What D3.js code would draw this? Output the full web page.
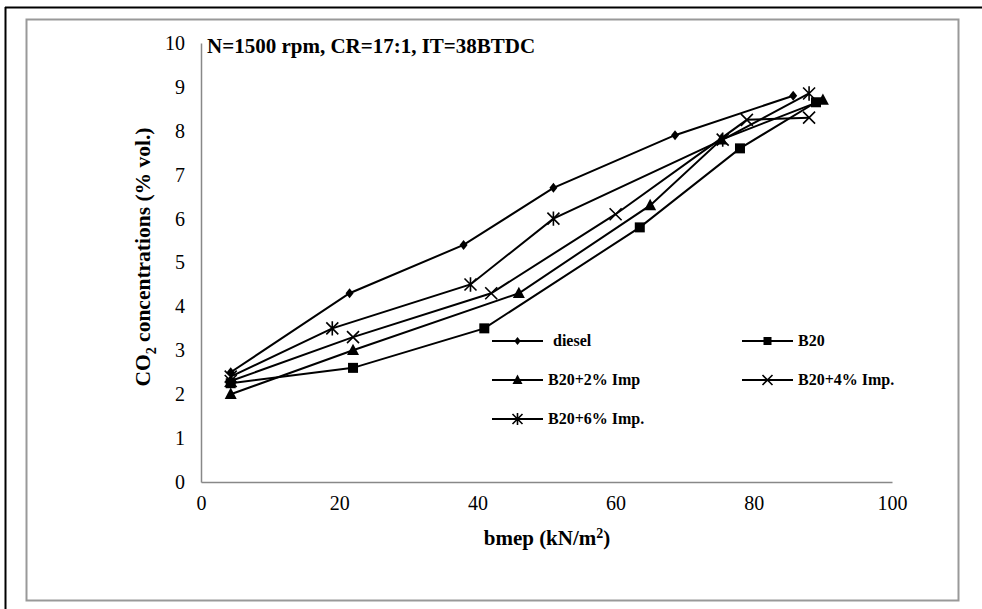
<!DOCTYPE html>
<html>
<head>
<meta charset="utf-8">
<script src="https://cdn.jsdelivr.net/npm/d3@7"></script>
<style>
  body { margin: 0; background: #fff; }
  text { font-family: "Liberation Serif", "Times New Roman", serif; fill: #000; }
</style>
</head>
<body>
<script>
// data
var xTicks = [0, 20, 40, 60, 80, 100];
var yTicks = [0, 1, 2, 3, 4, 5, 6, 7, 8, 9, 10];

var dieselX = [4.3, 21.5, 38, 51, 68.6, 85.7];
var dieselY = [2.5, 4.3, 5.4, 6.7, 7.9, 8.8];
var b20X = [4.3, 22, 41, 63.5, 78, 89];
var b20Y = [2.25, 2.6, 3.5, 5.8, 7.6, 8.65];
var imp2X = [4.3, 22, 46, 65, 75.3, 90];
var imp2Y = [2.0, 3.0, 4.3, 6.3, 7.8, 8.7];
var imp4X = [4.3, 22, 42, 60, 79, 88];
var imp4Y = [2.3, 3.3, 4.3, 6.1, 8.25, 8.3];
var imp6X = [4.3, 19, 39, 51, 75.5, 88];
var imp6Y = [2.4, 3.5, 4.5, 6.0, 7.8, 8.85];

var names = ["diesel", "B20", "B20+2% Imp", "B20+4% Imp.", "B20+6% Imp."];
var symbols = ["diamond", "square", "triangle", "cross", "star"];

var W = 982, H = 609;
var svg = d3.select("body").append("svg").attr("width", W).attr("height", H);

// frames
svg.append("line").attr("x1", 5).attr("x2", W).attr("y1", 7.5).attr("y2", 7.5)
   .attr("stroke", "#000").attr("stroke-width", 2);
svg.append("line").attr("x1", 5.5).attr("x2", 5.5).attr("y1", 7).attr("y2", H)
   .attr("stroke", "#000").attr("stroke-width", 2);
svg.append("rect").attr("x", 26.5).attr("y", 19.5).attr("width", 932).attr("height", 581)
   .attr("fill", "none").attr("stroke", "#999").attr("stroke-width", 2);

var x = d3.scaleLinear().domain([0, 100]).range([201, 892]);
var y = d3.scaleLinear().domain([0, 10]).range([482, 43]);

// axes
var xAxis = svg.append("g").attr("transform", "translate(0,482)")
   .call(d3.axisBottom(x).tickValues(xTicks).tickSize(0).tickPadding(14));
var yAxis = svg.append("g").attr("transform", "translate(201,0)")
   .call(d3.axisLeft(y).tickValues(yTicks).tickSize(0).tickPadding(16));
[xAxis, yAxis].forEach(function(a) {
  a.select(".domain").attr("stroke", "#888").attr("stroke-width", 1.5);
  a.selectAll("text").style("font-family", "Liberation Serif").style("font-size", "20px");
});

// titles
svg.append("text").attr("x", 207).attr("y", 53)
   .style("font-size", "21px").style("font-weight", "bold")
   .text("N=1500 rpm, CR=17:1, IT=38BTDC");

var xt = svg.append("text").attr("x", 547).attr("y", 545).attr("text-anchor", "middle")
   .style("font-size", "21px").style("font-weight", "bold");
xt.append("tspan").text("bmep (kN/m");
xt.append("tspan").attr("dy", -7).style("font-size", "14px").text("2");
xt.append("tspan").attr("dy", 7).text(")");

var yt = svg.append("text").attr("transform", "translate(150,257) rotate(-90)")
   .attr("text-anchor", "middle").style("font-size", "21.5px").style("font-weight", "bold");
yt.append("tspan").text("CO");
yt.append("tspan").attr("dy", 6).style("font-size", "14px").text("2");
yt.append("tspan").attr("dy", -6).text(" concentrations (% vol.)");

// marker drawing
function marker(g, kind, cx, cy, s) {
  if (kind == "diamond") {
    g.append("path").attr("d", "M" + cx + "," + (cy - s) + "L" + (cx + s * 0.8) + "," + cy +
      "L" + cx + "," + (cy + s) + "L" + (cx - s * 0.8) + "," + cy + "Z").attr("fill", "#000");
  } else if (kind == "square") {
    g.append("rect").attr("x", cx - s).attr("y", cy - s).attr("width", 2 * s).attr("height", 2 * s).attr("fill", "#000");
  } else if (kind == "triangle") {
    g.append("path").attr("d", "M" + cx + "," + (cy - s * 1.1) + "L" + (cx + s) + "," + (cy + s * 0.8) +
      "L" + (cx - s) + "," + (cy + s * 0.8) + "Z").attr("fill", "#000");
  } else if (kind == "cross") {
    g.append("path").attr("d", "M" + (cx - s) + "," + (cy - s) + "L" + (cx + s) + "," + (cy + s) +
      "M" + (cx - s) + "," + (cy + s) + "L" + (cx + s) + "," + (cy - s)).attr("stroke", "#000").attr("stroke-width", 1.6);
  } else {
    g.append("path").attr("d", "M" + (cx - s) + "," + (cy - s) + "L" + (cx + s) + "," + (cy + s) +
      "M" + (cx - s) + "," + (cy + s) + "L" + (cx + s) + "," + (cy - s) +
      "M" + cx + "," + (cy - s * 1.2) + "L" + cx + "," + (cy + s * 1.2)).attr("stroke", "#000").attr("stroke-width", 1.6);
  }
}

var seriesX = [dieselX, b20X, imp2X, imp4X, imp6X];
var seriesY = [dieselY, b20Y, imp2Y, imp4Y, imp6Y];
var sizes = [5, 5, 6, 6, 6];

var line = d3.line().x(function(d) { return x(d[0]); }).y(function(d) { return y(d[1]); });

seriesX.forEach(function(xs, k) {
  var pts = xs.map(function(v, i) { return [v, seriesY[k][i]]; });
  var g = svg.append("g");
  g.append("path").datum(pts).attr("d", line).attr("fill", "none")
   .attr("stroke", "#000").attr("stroke-width", 2);
  pts.forEach(function(p) { marker(g, symbols[k], x(p[0]), y(p[1]), sizes[k]); });
});

// legend
var legX = [492, 742, 492, 742, 492];
var legY = [341, 341, 380, 380, 419];
var legTextX = [553, 798, 548, 798, 548];
names.forEach(function(n, k) {
  var g = svg.append("g");
  g.append("line").attr("x1", legX[k]).attr("x2", legX[k] + 51).attr("y1", legY[k]).attr("y2", legY[k])
   .attr("stroke", "#000").attr("stroke-width", 2);
  marker(g, symbols[k], legX[k] + 25.5, legY[k], k < 2 ? 4 : 5);
  g.append("text").attr("x", legTextX[k]).attr("y", legY[k] + 5)
   .style("font-size", "16px").style("font-weight", "bold").text(n);
});
</script>
</body>
</html>
